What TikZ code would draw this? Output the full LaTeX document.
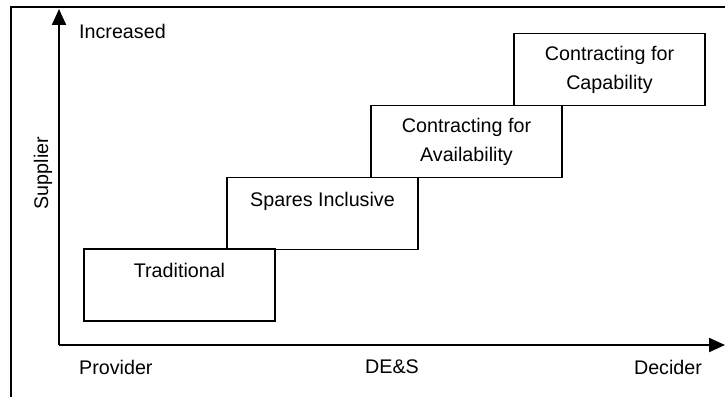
\documentclass[tikz,border=0pt]{standalone}
\usepackage{fontspec}
\setmainfont{Liberation Sans}
\usepackage{tikz}
\usetikzlibrary{arrows.meta, positioning}
\newcommand{\stagefont}{\fontsize{19.7}{29}\selectfont}

\begin{document}
\begin{tikzpicture}[x=1pt, y=-1pt,
    stagebox/.style={draw, line width=1.6pt, minimum width=191pt,
      minimum height=72pt, inner sep=0pt, align=center, font=\stagefont},
    axisline/.style={line width=2.2pt, -{Triangle[length=16pt, width=14pt]}},
    axislabel/.style={font=\stagefont, inner sep=0pt}]
        \useasboundingbox (0,0) rectangle (725,396);
        \clip (0,0) rectangle (725,396);

        % outer frame (runs off the page right and below)
        \draw[line width=2.6pt] (11,420) -- (11,7) -- (740,7);

        % axes
        \coordinate (origin) at (59,345);
        \coordinate (ytip) at (59,9);
        \coordinate (xtip) at (725,345);
        \draw[axisline] (origin) -- (ytip);
        \draw[axisline] (origin) -- (xtip);

        % steps of the staircase
        \node[stagebox] (trad) at (179.5,285) {Traditional\\\mbox{}};
        \node[stagebox] (spares) at (322.5,213.5) {Spares Inclusive\\\mbox{}};
        \node[stagebox] (avail) at (466.5,141.5)
          {Contracting for\\Availability};
        \node[stagebox] (capab) at (609.5,69.5)
          {Contracting for\\Capability};

        % axis labels
        \node[axislabel, anchor=west] (incr) at (79,31) {Increased};
        \node[axislabel, rotate=90] (supp) at (43,173) {Supplier};
        \node[axislabel, anchor=west] (prov) at (79,367) {Provider};
        \node[axislabel] (des) at (392,367) {DE\&S};
        \node[axislabel] (deci) at (668,367) {Decider};
      \end{tikzpicture}
\end{document}
